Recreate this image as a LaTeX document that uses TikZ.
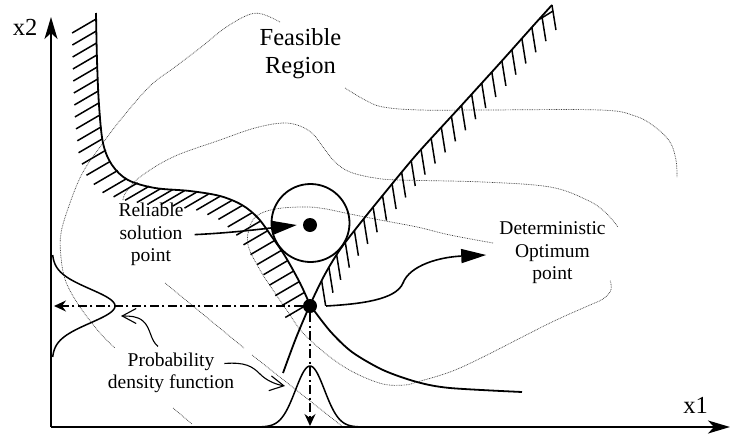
\documentclass[tikz,border=0pt]{standalone}
\usepackage{fontspec}
\setmainfont{Liberation Serif}
\usetikzlibrary{arrows.meta,decorations.markings,calc}
\begin{document}
\begin{tikzpicture}[x=1pt,y=-1pt,
  thk/.style={line width=1.8pt},
  axisline/.style={line width=2pt,-{Stealth[length=22pt,width=13pt,inset=6pt]}},
  contour/.style={line width=0.7pt,black!75,dash pattern=on 0.8pt off 0.9pt},
  dashdot/.style={line width=1.4pt,dash pattern=on 9pt off 3.5pt on 2pt off 3.5pt,-{Stealth[length=12pt,width=11pt,inset=4pt]}},
  txt/.style={font=\fontsize{19.5}{22.5}\selectfont,align=center,inner sep=0pt},
  bigtxt/.style={font=\fontsize{24.5}{28}\selectfont,align=center,inner sep=0pt},
  bigdot/.style={circle,fill,inner sep=0pt,minimum size=14pt},
  fillarrow/.style={line width=1.6pt,-{Triangle[length=25pt,width=14pt]}},
  pointer/.style={line width=1.1pt,-{Straight Barb[length=14pt,width=15pt]}},
  pdfline/.style={line width=1.5pt},
  lhatch/.style={decorate,decoration={markings,mark=between positions 6pt and 1 step 12pt with {\pgftransformresetnontranslations\draw[line width=1.5pt] (0pt,0pt) -- (-24pt,-14pt);}}},
  rhatch/.style={decorate,decoration={markings,mark=between positions 100pt and 1 step 15pt with {\pgftransformresetnontranslations\draw[line width=1.5pt] (0pt,0pt) -- (4pt,-25pt);}}},
]
\useasboundingbox (0,0) rectangle (731,434);

% dotted contours
\draw[contour] plot[smooth,tension=0.6] coordinates {(280,22) (262,14) (248,15) (225,28) (200,48) (175,67) (150,86) (122,118) (103,143) (83,172) (70,203) (61,233) (61,257) (66,282) (80,307) (100,333) (115,348)};
\draw[contour] plot[smooth,tension=0.6] coordinates {(345,88) (365,100) (383,107) (420,110) (483,110) (600,110) (635,116) (655,127) (670,142) (676,160) (677,177)};
\draw[contour] plot[smooth,tension=0.6] coordinates {(123,200) (126,192) (140,177) (173,157) (220,140) (255,128) (283,123) (300,126) (313,134) (323,147) (335,162) (350,172) (375,178) (400,180) (483,182) (550,187) (587,200) (605,212) (618,227)};
\draw[contour] plot[smooth,tension=0.6] coordinates {(493,243) (450,235) (417,227) (380,220) (350,214) (320,208) (300,207) (275,209) (258,215) (250,226) (248,245) (260,270) (273,290) (288,312) (303,333) (330,357) (355,373) (383,384) (405,385) (417,382) (450,372) (483,357) (550,323) (590,305) (603,299) (611,290) (610,280)};
\draw[contour] (165,283) -- (244,348);
\draw[contour] (252,355) -- (343,427);
\draw[contour] (173,408) -- (192,424);

% axes
\coordinate (O) at (51,427);
\coordinate (ytip) at (51,17);
\coordinate (xtip) at (730,427);
\draw[axisline] (O) -- (ytip);
\draw[axisline] (O) -- (xtip);
\node[font=\fontsize{24.5}{28}\selectfont,anchor=base,inner sep=0pt] (x2l) at (25,35) {x2};
\node[font=\fontsize{24.5}{28}\selectfont,anchor=base,inner sep=0pt] (x1l) at (695.5,413) {x1};

% constraints
\draw[thk] plot[smooth,tension=0.55] coordinates {(96,13) (97,60) (99,105) (103,143) (112,165) (128,180) (155,188) (190,191) (220,196) (242,205) (258,218) (272,237) (285,256) (300,283) (310,305)};
\path[lhatch] plot coordinates {(96,13) (97,60) (99,105) (103,143) (112,165) (128,180) (155,188) (190,191) (220,196) (242,205) (258,218) (272,237) (285,256) (300,283) (310,305)};
\draw[thk] plot[smooth] coordinates {(310,305) (330,331) (352,352) (383,370) (417,382) (450,388) (522,392)};
\draw[thk] plot[smooth,tension=0.5] coordinates {(283,373) (296,338) (310,305) (324,276) (339,251) (358,226) (383,195) (417,154) (460,107) (500,63) (533,26) (552,5)};
\path[rhatch] plot coordinates {(283,373) (296,338) (310,305) (324,276) (339,251) (358,226) (383,195) (417,154) (460,107) (500,63) (533,26) (552,5)};
\draw[line width=1.5pt] (540,19) -- (553,11);

% circle and points
\node[circle,draw,line width=1.8pt,minimum size=78pt,inner sep=0pt] (rcirc) at (310.5,223) {};
\node[bigdot] (rdot) at (310,225) {};
\node[bigdot] (opt) at (310,306) {};

% pdfs
\draw[pdfline] plot[domain=255:357,samples=80,smooth] ({52+63*exp(-((\x-306)^2)/578)},\x);
\draw[pdfline] plot[domain=260:360,samples=80,smooth] (\x,{427-61*exp(-((\x-310)^2)/420.5)});

% projections
\coordinate (yax) at (54,306);
\coordinate (xax) at (310,426);
\draw[dashdot] (opt) -- (yax);
\draw[dashdot] (opt) -- (xax);

% texts
\node[bigtxt] (feas) at (300.5,54) {Feasible\\Region};
\node[txt] (rel) at (151,234.6) {Reliable\\solution\\point};
\node[txt] (det) at (552.5,253) {Deterministic\\Optimum\\point};
\node[txt] (prob) at (171,372.8) {Probability\\density function};

% annotation arrows
\draw[fillarrow] ([xshift=11pt]rel.east) .. controls (230,233) and (262,229) .. ([xshift=-6pt]rdot.west);
\draw[fillarrow] ([xshift=9pt]opt.east) .. controls (360,304) and (396,300) .. (403,283) .. controls (410,265) and (440,257) .. ($(det.west)+(-13,2)$);
\coordinate (lp) at (121,316);
\coordinate (bp) at (285,386);
\draw[pointer] ($(prob.north)+(-13,-6)$) .. controls (150,340) and (151,328) .. (143,321) .. controls (137,316) and (130,316) .. (lp);
\draw[pointer] ($(prob.north east)+(-10,11)$) .. controls (245,362) and (252,366) .. (260,374) .. controls (266,380) and (274,384) .. (bp);
\end{tikzpicture}
\end{document}
